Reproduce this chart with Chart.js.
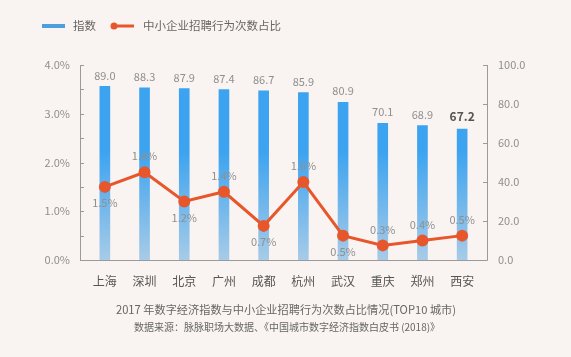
<!DOCTYPE html>
<html><head><meta charset="utf-8">
<script src="https://cdn.jsdelivr.net/npm/chart.js@4.4.1/dist/chart.umd.min.js"></script>
<style>html,body{margin:0;padding:0;background:#f9f4f1;}#wrap{width:571px;height:357px;}</style>
</head><body><div id="wrap"><canvas id="c" width="571" height="357"></canvas></div>
<script>
const categories = ['上海','深圳','北京','广州','成都','杭州','武汉','重庆','郑州','西安'];
const indexValues = [89.0, 88.3, 87.9, 87.4, 86.7, 85.9, 80.9, 70.1, 68.9, 67.2];
const hiringShare = [1.5, 1.8, 1.2, 1.4, 0.7, 1.6, 0.5, 0.3, 0.4, 0.5];
const leftTicks = [0, 1, 2, 3, 4];
const rightTicks = [0, 20, 40, 60, 80, 100];
const seriesNames = ['指数', '中小企业招聘行为次数占比'];
const titleText = '2017 年数字经济指数与中小企业招聘行为次数占比情况(TOP10 城市)';
const sourceText = '数据来源：脉脉职场大数据、《中国城市数字经济指数白皮书 (2018)》';
// label placement style: 1 = below point, -1 = above point
const lineLabelSide = [1, -1, 1, -1, 1, -1, 1, -1, -1, -1];

const FONT = "'Noto Sans CJK SC', sans-serif";
const ORANGE = '#e8562b';
const AXIS = '#9a9a9a';

const decor = {
  id: 'decor',
  beforeDraw(chart) {
    const ctx = chart.ctx;
    ctx.save();
    ctx.fillStyle = '#f9f4f1';
    ctx.fillRect(0, 0, chart.width, chart.height);
    ctx.restore();
  },
  afterDatasetsDraw(chart) {
    const ctx = chart.ctx;
    const a = chart.chartArea;
    const yL = chart.scales.y, yR = chart.scales.y1;
    const L = a.left - 5, R = a.right + 5;
    ctx.save();
    ctx.strokeStyle = AXIS; ctx.lineWidth = 1;
    ctx.beginPath();
    ctx.moveTo(L + 0.5, yL.getPixelForValue(4)); ctx.lineTo(L + 0.5, a.bottom + 0.5);
    ctx.lineTo(R + 0.5, a.bottom + 0.5); ctx.lineTo(R + 0.5, yR.getPixelForValue(100));
    ctx.stroke();
    for (let v = 0; v <= 4.001; v += 0.5) {
      const y = Math.round(yL.getPixelForValue(v)) + 0.5;
      ctx.beginPath(); ctx.moveTo(L, y); ctx.lineTo(L + 4, y); ctx.stroke();
    }
    rightTicks.forEach(v => {
      const y = Math.round(yR.getPixelForValue(v)) + 0.5;
      ctx.beginPath(); ctx.moveTo(R - 4, y); ctx.lineTo(R, y); ctx.stroke();
    });
    // bar value labels
    const barMeta = chart.getDatasetMeta(0);
    ctx.textAlign = 'center'; ctx.textBaseline = 'middle';
    barMeta.data.forEach((el, i) => {
      const last = i === indexValues.length - 1;
      ctx.font = (last ? 'bold 12px ' : '11px ') + FONT;
      ctx.fillStyle = last ? '#555' : '#8f8f8f';
      ctx.fillText(indexValues[i].toFixed(1), el.x, el.y - (last ? 13 : 11));
    });
    // line value labels
    const lineMeta = chart.getDatasetMeta(1);
    ctx.font = '11px ' + FONT; ctx.fillStyle = '#8f8f8f';
    lineMeta.data.forEach((el, i) => {
      ctx.fillText(hiringShare[i].toFixed(1) + '%', el.x, el.y + lineLabelSide[i] * 16);
    });
    ctx.restore();
  },
  afterDraw(chart) {
    const ctx = chart.ctx;
    ctx.save();
    // legend
    ctx.fillStyle = '#4a9fdc';
    ctx.fillRect(42, 24, 23, 4);
    ctx.strokeStyle = ORANGE; ctx.lineWidth = 3;
    ctx.beginPath(); ctx.moveTo(116, 26); ctx.lineTo(134, 26); ctx.stroke();
    ctx.fillStyle = ORANGE;
    ctx.beginPath(); ctx.arc(114, 26, 3.5, 0, Math.PI * 2); ctx.fill();
    ctx.font = '11.5px ' + FONT; ctx.fillStyle = '#666';
    ctx.textBaseline = 'middle'; ctx.textAlign = 'left';
    ctx.fillText(seriesNames[0], 73, 26);
    ctx.fillText(seriesNames[1], 143, 26);
    // captions
    ctx.textAlign = 'center';
    ctx.font = '11.2px ' + FONT; ctx.fillStyle = '#666';
    ctx.fillText(titleText, 286, 310);
    ctx.font = '10px ' + FONT;
    ctx.fillText(sourceText, 287, 327);
    ctx.restore();
  }
};

const ctx = document.getElementById('c').getContext('2d');
const grad = ctx.createLinearGradient(0, 150, 0, 260);
grad.addColorStop(0, '#3ba3f0');
grad.addColorStop(1, '#a7cbe8');

new Chart(ctx, {
  data: {
    labels: categories,
    datasets: [
      { type: 'bar', label: seriesNames[0], data: indexValues, yAxisID: 'y1',
        backgroundColor: grad, barThickness: 10, order: 2 },
      { type: 'line', label: seriesNames[1], data: hiringShare, yAxisID: 'y',
        borderColor: ORANGE, backgroundColor: ORANGE, borderWidth: 3,
        pointRadius: 4.5, pointHoverRadius: 4.5, tension: 0, order: 1 }
    ]
  },
  options: {
    responsive: false, animation: false, devicePixelRatio: 1,
    layout: { padding: { top: 65, left: 0, right: 0, bottom: 0 } },
    plugins: { legend: { display: false }, tooltip: { enabled: false }, title: { display: false } },
    scales: {
      x: {
        offset: true,
        grid: { display: false, drawTicks: false }, border: { display: false },
        ticks: { padding: 14, color: '#555', font: { family: FONT, size: 12 } },
        afterFit(s) { s.height = 97; }
      },
      y: {
        position: 'left', min: 0, max: 4,
        afterBuildTicks(s) { s.ticks = leftTicks.map(v => ({ value: v })); },
        grid: { display: false, drawTicks: false }, border: { display: false },
        ticks: { padding: 15, color: '#8f8f8f', font: { family: FONT, size: 11 },
                 callback: v => v.toFixed(1) + '%' },
        afterFit(s) { s.width = 85; }
      },
      y1: {
        position: 'right', min: 0, max: 100,
        afterBuildTicks(s) { s.ticks = rightTicks.map(v => ({ value: v })); },
        grid: { display: false, drawTicks: false }, border: { display: false },
        ticks: { padding: 16, color: '#8f8f8f', font: { family: FONT, size: 11 },
                 callback: v => v.toFixed(1) },
        afterFit(s) { s.width = 89; }
      }
    }
  },
  plugins: [decor]
});
</script></body></html>
